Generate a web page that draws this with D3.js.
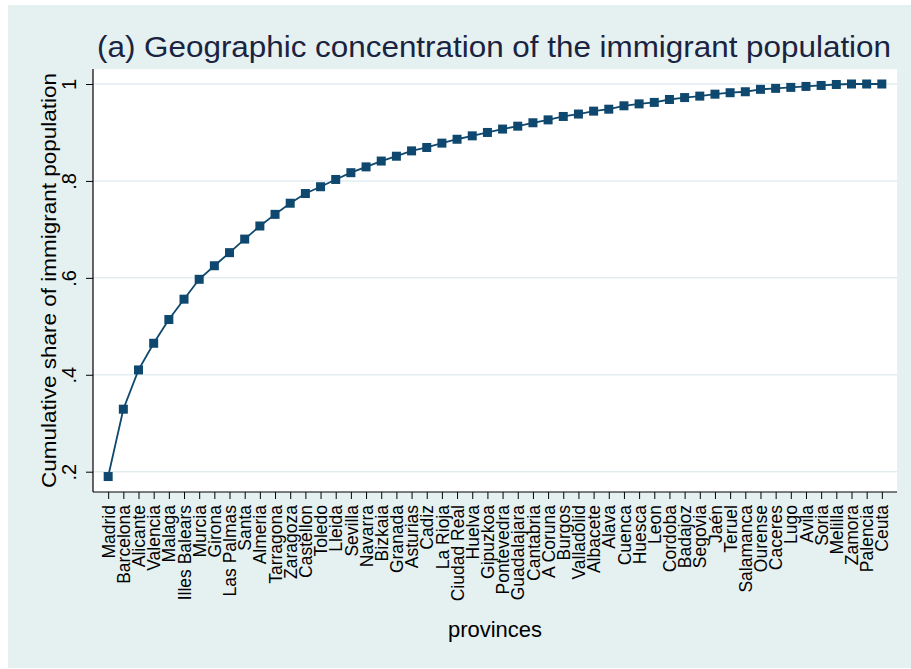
<!DOCTYPE html>
<html>
<head>
<meta charset="utf-8">
<script src="https://cdn.jsdelivr.net/npm/d3@7"></script>
<style>
  body { margin: 0; background: #fff; }
  svg { display: block; font-family: "Liberation Sans", Arial, Helvetica, sans-serif; }
</style>
</head>
<body>
<svg id="chart" width="911" height="669"></svg>
<script>
// provinces, ordered by their share of the immigrant population
const provinces = ["Madrid", "Barcelona", "Alicante", "Valencia", "Malaga", "Illes Balears", "Murcia",
  "Girona", "Las Palmas", "Santa", "Almeria", "Tarragona", "Zaragoza", "Castellon", "Toledo", "Lleida",
  "Sevilla", "Navarra", "Bizkaia", "Granada", "Asturias", "Cadiz", "La Rioja", "Ciudad Real", "Huelva",
  "Gipuzkoa", "Pontevedra", "Guadalajara", "Cantabria", "A Coruna", "Burgos", "Valladolid", "Albacete",
  "Alava", "Cuenca", "Huesca", "Leon", "Cordoba", "Badajoz", "Segovia", "Jaén", "Teruel", "Salamanca",
  "Ourense", "Caceres", "Lugo", "Avila", "Soria", "Melilla", "Zamora", "Palencia", "Ceuta"];

// cumulative share
const cumShare = [0.190, 0.329, 0.410, 0.465, 0.514, 0.556, 0.597, 0.625, 0.652, 0.680, 0.707, 0.731,
  0.754, 0.774, 0.788, 0.803, 0.817, 0.829, 0.841, 0.851, 0.862, 0.869, 0.878, 0.886, 0.893, 0.900,
  0.907, 0.913, 0.920, 0.926, 0.933, 0.938, 0.944, 0.948, 0.955, 0.959, 0.962, 0.968, 0.972, 0.975,
  0.979, 0.982, 0.984, 0.989, 0.991, 0.993, 0.995, 0.997, 0.999, 1.000, 1.000, 1.000];

const yTicks = [0.2, 0.4, 0.6, 0.8, 1];
const yTickLabels = [".2", ".4", ".6", ".8", "1"];

const WIDTH = 911, HEIGHT = 669;
const plot = { left: 93, right: 897, top: 69, bottom: 492 };
const NAVY = "#0f486e";

const data = provinces.map((p, i) => ({ province: p, share: cumShare[i] }));

const svg = d3.select("#chart");

// outer graph region
svg.append("rect")
  .attr("x", 8).attr("y", 5)
  .attr("width", WIDTH - 8).attr("height", HEIGHT - 6)
  .attr("fill", "#e5f0f1");

// plot region
svg.append("rect")
  .attr("x", plot.left).attr("y", plot.top)
  .attr("width", plot.right - plot.left).attr("height", plot.bottom - plot.top)
  .attr("fill", "#fff");

const x = d3.scalePoint()
  .domain(provinces)
  .range([plot.left, plot.right])
  .padding(1);

const y = d3.scaleLinear()
  .domain([0.2, 1])
  .range([471.7, 84]);

// grid
svg.append("g")
  .selectAll("line")
  .data(yTicks)
  .join("line")
  .attr("x1", plot.left).attr("x2", plot.right)
  .attr("y1", d => y(d)).attr("y2", d => y(d))
  .attr("stroke", "#e3edf0")
  .attr("stroke-width", 1.5);

// y axis
const yAxis = svg.append("g")
  .attr("transform", `translate(${plot.left},0)`)
  .call(d3.axisLeft(y).tickValues(yTicks).tickSize(7).tickSizeOuter(0)
    .tickFormat((d, i) => yTickLabels[i]));
yAxis.select(".domain").remove();
yAxis.selectAll(".tick line").attr("stroke", "#000").attr("stroke-width", 1);
yAxis.selectAll(".tick text")
  .attr("x", null).attr("dy", null)
  .attr("text-anchor", "middle")
  .attr("transform", "translate(-17,0) rotate(-90)")
  .attr("font-size", 20)
  .attr("font-family", null)
  .attr("fill", "#000");

// x axis
const xAxis = svg.append("g")
  .attr("transform", `translate(0,${plot.bottom})`)
  .call(d3.axisBottom(x).tickSize(7).tickSizeOuter(0));
xAxis.select(".domain").remove();
xAxis.selectAll(".tick line").attr("stroke", "#000").attr("stroke-width", 1);
xAxis.selectAll(".tick text")
  .attr("y", null).attr("dy", "0.35em")
  .attr("text-anchor", "end")
  .attr("transform", "translate(0,13) rotate(-90)")
  .attr("font-size", 17.5)
  .attr("font-family", null)
  .attr("fill", "#000");

// axis lines
svg.append("line")
  .attr("x1", plot.left).attr("x2", plot.left)
  .attr("y1", plot.top).attr("y2", plot.bottom)
  .attr("stroke", "#000").attr("stroke-width", 1.2);
svg.append("line")
  .attr("x1", plot.left).attr("x2", plot.right)
  .attr("y1", plot.bottom).attr("y2", plot.bottom)
  .attr("stroke", "#000").attr("stroke-width", 1.2);

// connected line
const line = d3.line()
  .x(d => x(d.province))
  .y(d => y(d.share));

svg.append("path")
  .datum(data)
  .attr("d", line)
  .attr("fill", "none")
  .attr("stroke", NAVY)
  .attr("stroke-width", 1.8);

const SQ = 9;
svg.append("g")
  .selectAll("rect")
  .data(data)
  .join("rect")
  .attr("x", d => x(d.province) - SQ / 2)
  .attr("y", d => y(d.share) - SQ / 2)
  .attr("width", SQ).attr("height", SQ)
  .attr("fill", NAVY);

// titles
svg.append("text")
  .attr("x", 97).attr("y", 57)
  .attr("font-size", 30)
  .attr("fill", "#1a2340")
  .attr("textLength", 794)
  .attr("lengthAdjust", "spacingAndGlyphs")
  .text("(a) Geographic concentration of the immigrant population");

svg.append("text")
  .attr("transform", "translate(56,280.5) rotate(-90)")
  .attr("text-anchor", "middle")
  .attr("font-size", 20)
  .attr("fill", "#000")
  .attr("textLength", 415)
  .attr("lengthAdjust", "spacingAndGlyphs")
  .text("Cumulative share of immigrant population");

svg.append("text")
  .attr("x", 495).attr("y", 637)
  .attr("text-anchor", "middle")
  .attr("font-size", 22)
  .attr("fill", "#000")
  .text("provinces");
</script>
</body>
</html>
